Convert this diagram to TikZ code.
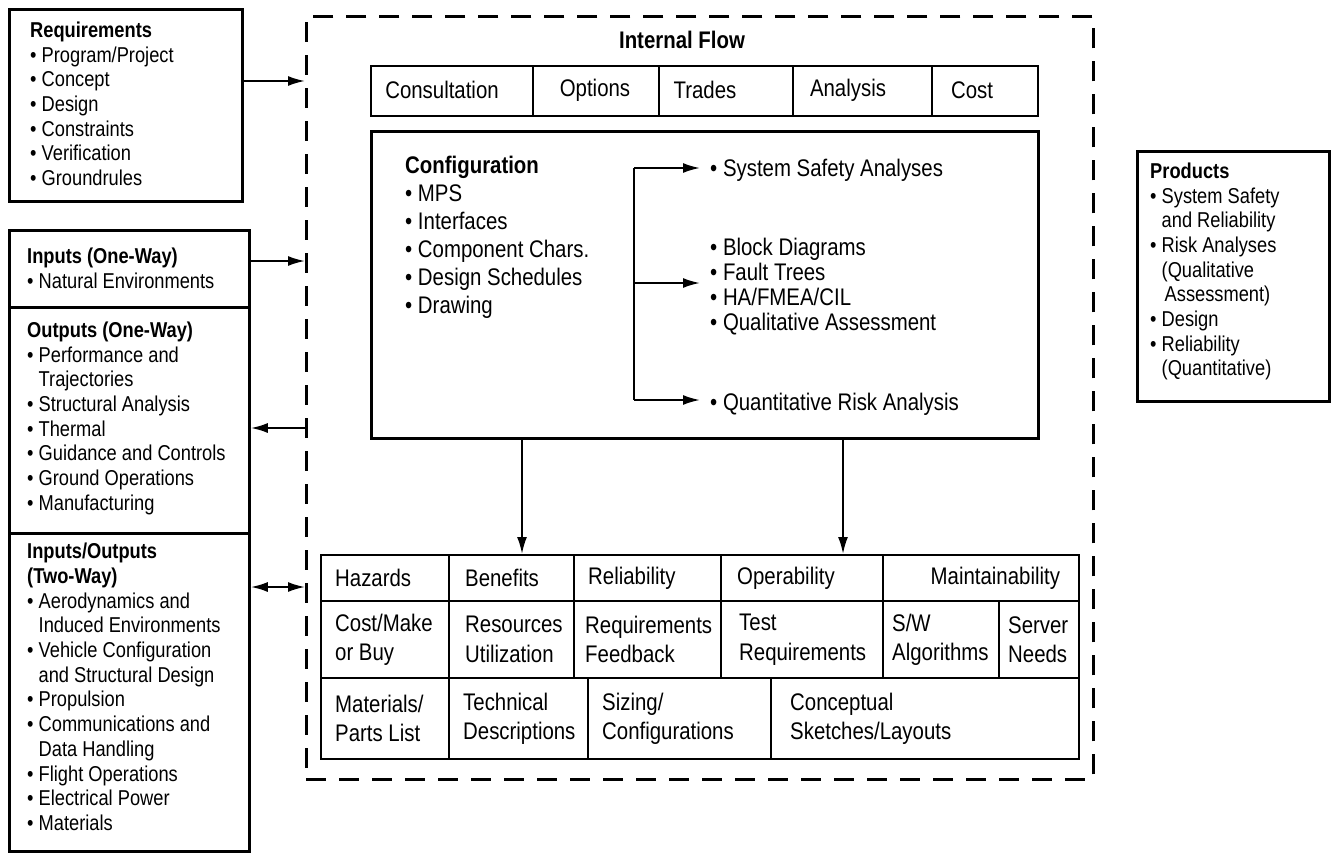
\documentclass[tikz,border=0pt]{standalone}
\usepackage{fontspec}
\setmainfont{Liberation Sans}[FakeStretch=0.85]
\usetikzlibrary{arrows.meta}
\newcommand{\bulx}{•\ }
\newcommand{\indx}{\hphantom{•\ }}
\begin{document}
\begin{tikzpicture}[x=1pt,y=-1pt,
 sbox/.style={draw,line width=2.8pt,anchor=north west,inner sep=0pt},
 cbox/.style={draw,line width=2.2pt,anchor=north west,inner sep=0pt},
 dbox/.style={draw,line width=2.6pt,dash pattern=on 20pt off 13pt,anchor=north west,inner sep=0pt},
 stext/.style={anchor=north west,inner sep=0pt,align=left,font=\fontsize{21.5}{24.7}\selectfont},
 ctext/.style={anchor=north west,inner sep=0pt,align=left,font=\fontsize{24}{28}\selectfont},
 itext/.style={anchor=north west,inner sep=0pt,align=left,font=\fontsize{24}{25}\selectfont},
 gtext/.style={anchor=west,inner sep=0pt,align=left,font=\fontsize{24}{29.5}\selectfont},
 ttext/.style={inner sep=0pt,font=\fontsize{24}{26}\selectfont},
 arr/.style={line width=2pt,-{Latex[length=17pt,width=10pt]}},
 darr/.style={line width=2pt,{Latex[length=17pt,width=10pt]}-{Latex[length=17pt,width=10pt]}},
]
\useasboundingbox (0,0) rectangle (1341,856);

% ---------- left boxes ----------
\node[sbox,minimum width=233pt,minimum height=192pt] (req) at (8,8) {};
\node[stext] (reqt) at (30,21.6) {\textbf{Requirements}\\\bulx Program/Project\\\bulx Concept\\\bulx Design\\\bulx Constraints\\\bulx Verification\\\bulx Groundrules};

\node[sbox,minimum width=240pt,minimum height=77pt] (inp) at (8,229) {};
\node[stext] (inpt) at (27,247.6) {\textbf{Inputs (One-Way)}\\\bulx Natural Environments};
\node[sbox,minimum width=240pt,minimum height=226pt] (outp) at (8,306) {};
\node[stext] (outpt) at (27,321.6) {\textbf{Outputs (One-Way)}\\\bulx Performance and\\\indx Trajectories\\\bulx Structural Analysis\\\bulx Thermal\\\bulx Guidance and Controls\\\bulx Ground Operations\\\bulx Manufacturing};
\node[sbox,minimum width=240pt,minimum height=318pt] (two) at (8,532) {};
\node[stext] (twot) at (27,543) {\textbf{Inputs/Outputs}\\\textbf{(Two-Way)}\\\bulx Aerodynamics and\\\indx Induced Environments\\\bulx Vehicle Configuration\\\indx and Structural Design\\\bulx Propulsion\\\bulx Communications and\\\indx Data Handling\\\bulx Flight Operations\\\bulx Electrical Power\\\bulx Materials};

% ---------- dashed frame ----------
\node[dbox,minimum width=787pt,minimum height=763pt] (frame) at (305,15) {};

\draw[arr] (req.east |- 0,81) -- (frame.west |- 0,81);
\draw[arr] (inp.east |- 0,261) -- (frame.west |- 0,261);
\draw[arr] (frame.west |- 0,428) -- (outp.east |- 0,428);
\draw[darr] (two.east |- 0,587) -- (frame.west |- 0,587);

% ---------- internal flow ----------
\node[ttext,font=\bfseries\fontsize{24}{26}\selectfont] (iflow) at (682,40) {Internal Flow};
\node[cbox,minimum width=162pt,minimum height=50pt] (t1) at (370,65) {};
\node[cbox,minimum width=126pt,minimum height=50pt] (t2) at (532,65) {};
\node[cbox,minimum width=134pt,minimum height=50pt] (t3) at (658,65) {};
\node[cbox,minimum width=139pt,minimum height=50pt] (t4) at (792,65) {};
\node[cbox,minimum width=106pt,minimum height=50pt] (t5) at (931,65) {};
\node[ttext] (t1t) at (442,90) {Consultation};
\node[ttext] (t2t) at (595,90) {Options};
\node[ttext] (t3t) at (705,90) {Trades};
\node[ttext] (t4t) at (848,90) {Analysis};
\node[ttext] (t5t) at (972,90) {Cost};

% ---------- configuration box ----------
\node[cbox,line width=2.6pt,minimum width=667pt,minimum height=307pt] (cfg) at (370,130) {};
\node[ctext] (cfgt) at (405,156.4) {\textbf{Configuration}\\\bulx MPS\\\bulx Interfaces\\\bulx Component Chars.\\\bulx Design Schedules\\\bulx Drawing};
\node[itext] (ssa) at (710,159.4) {\bulx System Safety Analyses};
\node[itext] (blk) at (710,238.4) {\bulx Block Diagrams\\\bulx Fault Trees\\\bulx HA/FMEA/CIL\\\bulx Qualitative Assessment};
\node[itext] (qra) at (710,393.4) {\bulx Quantitative Risk Analysis};
\coordinate (b1) at (634,168);
\coordinate (b2) at (634,283);
\coordinate (b3) at (634,400);
\draw[line width=2pt] (b1) -- (b3);
\draw[arr] (b1) -- ([xshift=-10pt]ssa.west |- b1);
\draw[arr] (b2) -- ([xshift=-10pt]blk.west |- b2);
\draw[arr] (b3) -- ([xshift=-10pt]qra.west |- b3);

% ---------- bottom grid ----------
\node[cbox,minimum width=128pt,minimum height=46pt] (g11) at (320,554) {};
\node[cbox,minimum width=125pt,minimum height=46pt] (g12) at (448,554) {};
\node[cbox,minimum width=147pt,minimum height=46pt] (g13) at (573,554) {};
\node[cbox,minimum width=162pt,minimum height=46pt] (g14) at (720,554) {};
\node[cbox,minimum width=196pt,minimum height=46pt] (g15) at (882,554) {};
\node[cbox,minimum width=128pt,minimum height=77pt] (g21) at (320,600) {};
\node[cbox,minimum width=125pt,minimum height=77pt] (g22) at (448,600) {};
\node[cbox,minimum width=147pt,minimum height=77pt] (g23) at (573,600) {};
\node[cbox,minimum width=162pt,minimum height=77pt] (g24) at (720,600) {};
\node[cbox,minimum width=116pt,minimum height=77pt] (g25) at (882,600) {};
\node[cbox,minimum width=80pt,minimum height=77pt] (g26) at (998,600) {};
\node[cbox,minimum width=128pt,minimum height=81pt] (g31) at (320,677) {};
\node[cbox,minimum width=139pt,minimum height=81pt] (g32) at (448,677) {};
\node[cbox,minimum width=183pt,minimum height=81pt] (g33) at (587,677) {};
\node[cbox,minimum width=308pt,minimum height=81pt] (g34) at (770,677) {};

\node[gtext] (g11t) at ([xshift=15pt]g11.west) {Hazards};
\node[gtext] (g12t) at ([xshift=17pt]g12.west) {Benefits};
\node[gtext] (g13t) at ([xshift=15pt]g13.west) {Reliability};
\node[gtext] (g14t) at ([xshift=17pt]g14.west) {Operability};
\node[gtext,anchor=east] (g15t) at ([xshift=-20pt]g15.east) {Maintainability};
\node[gtext] (g21t) at ([xshift=15pt]g21.west) {Cost/Make\\or Buy};
\node[gtext] (g22t) at ([xshift=17pt]g22.west) {Resources\\Utilization};
\node[gtext] (g23t) at ([xshift=12pt]g23.west) {Requirements\\Feedback};
\node[gtext] (g24t) at ([xshift=19pt]g24.west) {Test\\Requirements};
\node[gtext] (g25t) at ([xshift=10pt]g25.west) {S/W\\Algorithms};
\node[gtext] (g26t) at ([xshift=10pt]g26.west) {Server\\Needs};
\node[gtext] (g31t) at ([xshift=15pt]g31.west) {Materials/\\Parts List};
\node[gtext] (g32t) at ([xshift=15pt]g32.west) {Technical\\Descriptions};
\node[gtext] (g33t) at ([xshift=15pt]g33.west) {Sizing/\\Configurations};
\node[gtext] (g34t) at ([xshift=20pt]g34.west) {Conceptual\\Sketches/Layouts};

\draw[arr] (cfg.south -| 522,0) -- (g12.north -| 522,0);
\draw[arr] (cfg.south -| 843,0) -- (g14.north -| 843,0);

% ---------- products ----------
\node[sbox,minimum width=192pt,minimum height=250pt] (prod) at (1136,150) {};
\node[stext] (prodt) at (1150,162.6) {\textbf{Products}\\\bulx System Safety\\\indx and Reliability\\\bulx Risk Analyses\\\indx (Qualitative\\\indx\hspace{3pt}Assessment)\\\bulx Design\\\bulx Reliability\\\indx (Quantitative)};
\end{tikzpicture}
\end{document}
